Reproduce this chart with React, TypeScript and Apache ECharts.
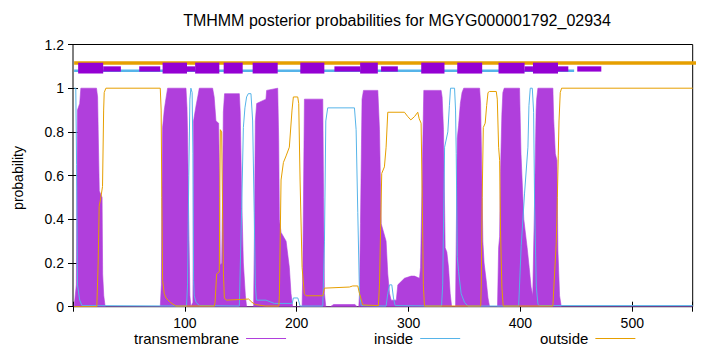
import { useEffect, useRef } from 'react';
import * as echarts from 'echarts';

const titleText = 'TMHMM posterior probabilities for MGYG000001792_02934';
const yLabel = 'probability';
const seriesNames = ['transmembrane', 'inside', 'outside'];
const xMin = 0;
const xMax = 554;
const xInterval = 100;
const yMin = 0;
const yMax = 1.2;
const yInterval = 0.2;

const transmembrane: [number, number][] = [
  [1, 0], [3, 0.1], [4, 0.9], [6, 0.93], [7, 1.0], [21, 1.0], [22, 0.96], [22.5, 0.81], [23.5, 0.53],
  [26, 0.5], [26.5, 0.15], [27.5, 0.05], [28.5, 0.01], [29, 0],
  [78, 0], [79, 0.1], [79.4, 0.45], [80.1, 0.82], [81.6, 0.9], [83, 0.95], [84.6, 1.0], [101, 1.0],
  [101.9, 0.91], [102.4, 0.8], [103.5, 0.38], [104.5, 0.05], [105.4, 0],
  [107.2, 0.02], [107.8, 0.85], [108.4, 0.87], [110, 0.92], [111.5, 0.96], [112.9, 1.0], [124.8, 1.0],
  [126.2, 0.96], [127.8, 0.85], [130.2, 0.84], [131.2, 0.5], [131.7, 0.19], [132.9, 0.2], [133.8, 0.55],
  [134.4, 0.89], [135.5, 0.975], [148.7, 0.975], [149.5, 0.89], [150.8, 0.5], [152.3, 0.2], [154.1, 0.05], [155.2, 0],
  [161.5, 0], [162.1, 0.3], [163, 0.85], [164.2, 0.93], [172.5, 0.95], [173.1, 0.99], [183, 1.0], [183.9, 0.76],
  [184.5, 0.4], [186, 0.34], [190.5, 0.3], [193.4, 0.18], [194.9, 0.06], [196.4, 0],
  [204.8, 0], [205.4, 0.15], [206.9, 0.95], [223.3, 0.95], [224, 0.5], [224.8, 0.06], [226, 0],
  [230, 0], [233, 0.01], [252, 0.01], [254, 0],
  [255.5, 0], [256.1, 0.06], [257, 0.38], [258.4, 0.95], [259.7, 0.99], [272.5, 0.99], [274, 0.81],
  [275.5, 0.38], [279.9, 0.3], [281.4, 0.15], [283, 0.06], [284.4, 0.03], [289, 0.03], [290.4, 0.1],
  [296.3, 0.13], [302.3, 0.14], [305.3, 0.14], [309.8, 0.13], [310.7, 0.18], [312.2, 0.6], [313.6, 0.99],
  [329.1, 0.99], [330, 0.96], [331.2, 0.81], [332.7, 0.27], [334.2, 0.25], [335.7, 0.18], [337.2, 0.06], [338.5, 0],
  [342, 0], [342.6, 0.3], [343.5, 0.77], [344.7, 0.83], [346.3, 0.93], [347.8, 0.98], [349.3, 1.0], [363.5, 1.0],
  [364.4, 0.93], [365.5, 0.6], [366.4, 0.3], [367.5, 0.2], [369.4, 0.12], [371, 0.04], [372.4, 0],
  [379.5, 0], [380.5, 0.27], [381.4, 0.32], [382.2, 0.62], [383.4, 0.88], [384.3, 0.98], [385.5, 1.0], [399.2, 1.0],
  [400.5, 0.7], [403, 0.4], [406, 0.27], [407.8, 0.18], [409.5, 0.09], [411, 0.05], [412.7, 0.5], [414, 0.9],
  [414.5, 0.95], [415.6, 1.0], [429, 1.0], [429.7, 0.86], [431.2, 0.7], [432.6, 0.67], [433.5, 0.26],
  [435, 0.05], [436.5, 0], [554, 0],
];

const inside: [number, number][] = [
  [1, 1.0], [2.5, 1.0], [3.2, 0.65], [4, 0.1], [6, 0.03], [8, 0.005], [101.5, 0.003], [102.4, 0.1],
  [103.5, 0.6], [104.5, 0.95], [105.4, 1.0], [106.5, 0.98], [107.2, 0.7], [107.8, 0.12], [108.4, 0.05],
  [110, 0.02], [113, 0.005], [148.7, 0.003], [150.8, 0.45], [152.3, 0.82], [153.7, 0.91], [155.2, 0.96],
  [156.7, 0.975], [159.1, 0.975], [160, 0.9], [160.6, 0.85], [162, 0.43], [163, 0.1], [164, 0.03],
  [172.5, 0.03], [180, 0.015], [196, 0.015], [197, 0.04], [201, 0.04], [203, 0.003],
  [223.3, 0.003], [224.8, 0.3], [226, 0.85], [227.7, 0.91], [251.6, 0.91], [253.1, 0.81], [254.6, 0.43],
  [256.1, 0.06], [257.6, 0.005], [279.9, 0.003], [281.4, 0.06], [283, 0.1], [285, 0.1], [286.5, 0.04],
  [288, 0.005], [329.5, 0.003], [330.5, 0.1], [332.2, 0.73], [335.1, 0.8], [336.5, 0.92], [337.5, 1.0],
  [341.1, 1.0], [342, 0.9], [342.6, 0.7], [343.5, 0.23], [344.7, 0.16], [347, 0.06], [350, 0.02], [353, 0.003],
  [398.4, 0.003], [400.7, 0.28], [403.7, 0.52], [406.7, 0.73], [407.6, 0.92], [408.8, 1.0], [410.6, 1.0],
  [411.8, 0.89], [412.7, 0.45], [414.2, 0.09], [415.7, 0.01], [417, 0.005], [554, 0.005],
];

const outside: [number, number][] = [
  [1, 0], [21.3, 0], [22.5, 0.2], [23.4, 0.46], [24.9, 0.5], [26.4, 0.55], [27.4, 0.9], [27.9, 0.98],
  [29.4, 1.0], [78, 1.0], [78.8, 0.9], [79.4, 0.5], [80.1, 0.12], [81.6, 0.06], [83.1, 0.04], [87.5, 0.018],
  [92, 0.003], [126.4, 0.003], [127, 0.02], [128.4, 0.15], [130.8, 0.16], [131.2, 0.5], [131.7, 0.81],
  [132.9, 0.8], [133.8, 0.4], [134.5, 0.15], [135.3, 0.04], [137, 0.03], [157, 0.035], [160, 0.02],
  [163, 0.01], [172, 0.003], [184, 0.003], [184.5, 0.05], [186, 0.58], [188.1, 0.66], [190.5, 0.69],
  [193.4, 0.73], [195.8, 0.9], [197, 0.96], [200.9, 0.96], [201.8, 0.93], [203, 0.58], [204.8, 0.18],
  [206.8, 0.06], [208.3, 0.05], [223.3, 0.05], [224.8, 0.085], [247.1, 0.09], [250.1, 0.095], [254.6, 0.095],
  [256.1, 0.06], [259.1, 0.008], [273, 0.005], [274, 0.1], [276, 0.61], [278.4, 0.64], [279.9, 0.73],
  [281.4, 0.89], [296.3, 0.89], [299.3, 0.87], [302, 0.855], [305.3, 0.87], [308.2, 0.89], [309.5, 0.86],
  [311.2, 0.84], [312.2, 0.5], [313.2, 0.1], [314.2, 0.003], [364.5, 0.003], [365, 0.1], [365.8, 0.5],
  [366.8, 0.82], [368.5, 0.84], [369.8, 0.92], [371, 0.98], [372.4, 0.985], [378.4, 0.985], [379.3, 0.95],
  [380.5, 0.73], [381.4, 0.67], [382.2, 0.35], [383.4, 0.09], [384.6, 0.003], [429, 0.003], [430.5, 0.15],
  [432, 0.29], [433, 0.5], [433.8, 0.69], [434.5, 0.85], [435.6, 0.98], [436.8, 1.0], [554, 1.0],
];

// predicted topology band at the top
const tmFull: [number, number][] = [
  [4.6, 27], [80.1, 101.9], [109.2, 130.8], [134.7, 151.7], [160.6, 183], [203.2, 224.7], [256.7, 272.5],
  [311.3, 332.1], [343.5, 365.8], [380.4, 403.7], [411.2, 433.6],
];
const tmHalf: [number, number][] = [
  [27, 42.8], [59.2, 78], [101.9, 109.2], [233.7, 256.7], [275.4, 290.4], [403.7, 411.2], [433.6, 442.8],
  [450.8, 472.3],
];
const insideBand: [number, number][] = [[1, 1.08], [448, 1.08]];
const outsideBand: [number, number][] = [[1, 1.115], [580, 1.115]];
const fullBox = [1.067, 1.117];
const halfBox = [1.076, 1.1];

const FONT = "'Liberation Sans', Arial, Helvetica, sans-serif";
const C_TM = '#b03fdc';
const C_TM_BOX = '#9400d3';
const C_IN = '#56b4e9';
const C_OUT = '#e69f00';

export default function App() {
  const ref = useRef<HTMLDivElement>(null);
  useEffect(() => {
    if (!ref.current) return;
    const chart = echarts.init(ref.current, undefined, { renderer: 'svg' });
    const boxes = [
      ...tmFull.map(([a, b]) => [a, b, fullBox[1], fullBox[0]]),
      ...tmHalf.map(([a, b]) => [a, b, halfBox[1], halfBox[0]]),
    ];
    const axisText = { color: '#000', fontFamily: FONT, fontSize: 14 };
    const legendCommon = {
      top: 331,
      align: 'right' as const,
      icon: 'rect',
      itemWidth: 40,
      itemHeight: 1,
      itemGap: 0,
      padding: 0,
      selectedMode: false,
      textStyle: { color: '#000', fontFamily: FONT, fontSize: 15, padding: [0, 2, 0, 0] },
    };
    chart.setOption({
      animation: false,
      backgroundColor: '#fff',
      grid: { left: 73, right: 27.3, top: 44.5, bottom: 45.3, show: true, borderColor: '#000', borderWidth: 1, backgroundColor: 'transparent' },
      graphic: [
        { type: 'text', x: 397, y: 20, style: { text: titleText, textAlign: 'center', textVerticalAlign: 'middle', font: `16px ${FONT}`, fill: '#000' } },
        { type: 'text', x: 18, y: 178, rotation: Math.PI / 2, style: { text: yLabel, textAlign: 'center', textVerticalAlign: 'middle', font: `14px ${FONT}`, fill: '#000' } },
      ],
      legend: [
        { ...legendCommon, left: 134, data: [seriesNames[0]] },
        { ...legendCommon, left: 374, data: [seriesNames[1]] },
        { ...legendCommon, left: 540, data: [seriesNames[2]] },
      ],
      xAxis: [
        {
          type: 'value', min: xMin, max: xMax, interval: xInterval,
          axisLine: { show: false }, splitLine: { show: false },
          axisTick: { inside: true, length: 5, lineStyle: { color: '#000' } },
          axisLabel: { ...axisText, margin: 9, formatter: (v: number) => (v % 100 === 0 && v !== 0 ? String(v) : '') },
        },
        {
          type: 'value', position: 'top', min: xMin, max: xMax, interval: xInterval,
          axisLine: { show: false }, splitLine: { show: false }, axisLabel: { show: false },
          axisTick: { inside: true, length: 5, lineStyle: { color: '#000' } },
        },
      ],
      yAxis: [
        {
          type: 'value', min: yMin, max: yMax, interval: yInterval,
          axisLine: { show: false }, splitLine: { show: false },
          axisTick: { show: true, inside: true, length: 5, lineStyle: { color: '#000' } },
          axisLabel: { ...axisText, margin: 9 },
        },
        {
          type: 'value', position: 'right', min: yMin, max: yMax, interval: yInterval,
          axisLine: { show: false }, splitLine: { show: false }, axisLabel: { show: false },
          axisTick: { show: true, inside: true, length: 5, lineStyle: { color: '#000' } },
        },
      ],
      series: [
        {
          name: seriesNames[0], type: 'line', data: transmembrane, showSymbol: false, color: C_TM,
          lineStyle: { width: 0.6, color: C_TM }, areaStyle: { color: C_TM, opacity: 1 }, z: 2,
        },
        { name: seriesNames[1], type: 'line', data: inside, showSymbol: false, color: C_IN, lineStyle: { width: 1, color: C_IN }, z: 3 },
        { name: seriesNames[2], type: 'line', data: outside, showSymbol: false, color: C_OUT, lineStyle: { width: 1, color: C_OUT }, z: 4 },
        { name: 'inside band', type: 'line', data: insideBand, showSymbol: false, clip: false, lineStyle: { width: 2.5, color: C_IN }, z: 5, silent: true },
        { name: 'outside band', type: 'line', data: outsideBand, showSymbol: false, clip: false, lineStyle: { width: 3.6, color: C_OUT }, z: 6, silent: true },
        {
          name: 'tm band', type: 'custom', data: boxes, encode: { x: [0, 1], y: [2, 3] }, z: 7, silent: true, clip: false,
          renderItem: (_p: any, api: any) => {
            const p1 = api.coord([api.value(0), api.value(2)]);
            const p2 = api.coord([api.value(1), api.value(3)]);
            return { type: 'rect', shape: { x: p1[0], y: p1[1], width: p2[0] - p1[0], height: p2[1] - p1[1] }, style: { fill: C_TM_BOX } };
          },
        },
      ],
    });
    return () => chart.dispose();
  }, []);
  return <div ref={ref} style={{ position: 'fixed', left: 0, top: 0, width: 720, height: 352 }} />;
}
